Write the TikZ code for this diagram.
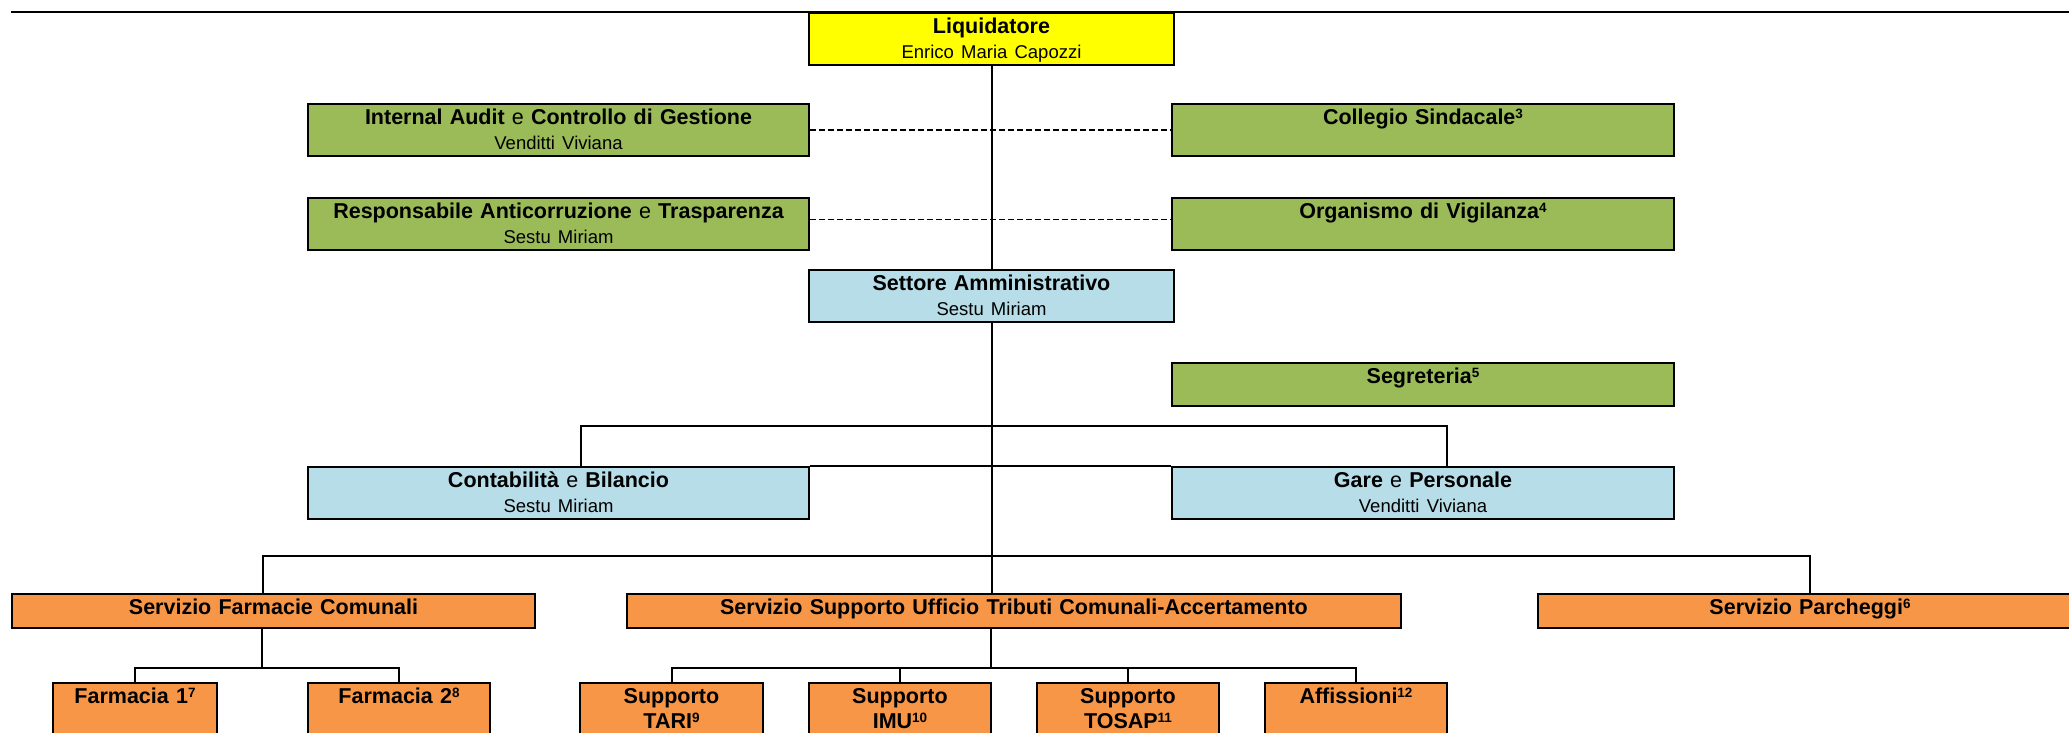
\documentclass[tikz,border=0pt]{standalone}
\usepackage{fontspec}
\setmainfont{Liberation Sans}
\usepackage{tikz}
\usetikzlibrary{positioning}
\usetikzlibrary{calc}
\definecolor{LiqYellow}{RGB}{255,255,0}
\definecolor{StaffGreen}{RGB}{155,187,89}
\definecolor{AdminBlue}{RGB}{183,221,232}
\definecolor{ServOrange}{RGB}{247,150,70}
\newcommand{\who}[1]{{\fontsize{18.5}{25}\selectfont\mdseries #1}}
\newcommand{\fnref}[1]{\raisebox{5.5pt}{\fontsize{13.5}{14}\selectfont #1}}

\begin{document}
\begin{tikzpicture}[x=1pt, y=-1pt,
  unit/.style={draw, line width=2pt, inner sep=0pt, anchor=north west, align=center,
    font=\fontsize{21.5}{25}\selectfont\bfseries, text height=20pt},
  tall/.style={text depth=32pt},
  short/.style={text depth=14pt},
  wire/.style={line width=2pt},
  staff/.style={line width=1.5pt, dash pattern=on 6pt off 3pt}]
\path[use as bounding box, clip] (0,0) rectangle (2069,732);

\draw[line width=2.5pt] (11,12) -- (2090,12);

% vertici e staff
\node[unit, tall, fill=LiqYellow, text width=365pt] at (808,12) (liq) {Liquidatore\\\who{Enrico Maria Capozzi}};
\node[unit, tall, fill=StaffGreen, text width=501pt] at (307,103) (audit) {Internal Audit \textmd{e} Controllo di Gestione\\\who{Venditti Viviana}};
\node[unit, tall, fill=StaffGreen, text width=502pt] at (1171,103) (collegio) {Collegio Sindacale\fnref{3}\\\mbox{}};
\node[unit, tall, fill=StaffGreen, text width=501pt] at (307,197) (anticorr) {Responsabile Anticorruzione \textmd{e} Trasparenza\\\who{Sestu Miriam}};
\node[unit, tall, fill=StaffGreen, text width=502pt] at (1171,197) (vigilanza) {Organismo di Vigilanza\fnref{4}\\\mbox{}};
\node[unit, tall, fill=AdminBlue, text width=365pt] at (808,269) (settore) {Settore Amministrativo\\\who{Sestu Miriam}};
\node[unit, text depth=23pt, fill=StaffGreen, text width=502pt] at (1171,362) (segreteria) {Segreteria\fnref{5}};

% uffici
\node[unit, tall, fill=AdminBlue, text width=501pt] at (307,466) (contab) {Contabilità \textmd{e} Bilancio\\\who{Sestu Miriam}};
\node[unit, tall, fill=AdminBlue, text width=502pt] at (1171,466) (gare) {Gare \textmd{e} Personale\\\who{Venditti Viviana}};

% servizi
\node[unit, short, fill=ServOrange, text width=523pt] at (11,593) (farmacie) {Servizio Farmacie Comunali};
\node[unit, short, fill=ServOrange, text width=774pt] at (626,593) (tributi) {Servizio Supporto Ufficio Tributi Comunali-Accertamento};
\node[unit, short, fill=ServOrange, text width=544pt] at (1537,593) (parcheggi) {Servizio Parcheggi\fnref{6}};

\node[unit, tall, fill=ServOrange, text width=164pt] at (52,682) (farm1) {Farmacia 1\fnref{7}\\\mbox{}};
\node[unit, tall, fill=ServOrange, text width=182pt] at (307,682) (farm2) {Farmacia 2\fnref{8}\\\mbox{}};
\node[unit, tall, fill=ServOrange, text width=183pt] at (579,682) (tari) {Supporto\\TARI\fnref{9}};
\node[unit, tall, fill=ServOrange, text width=182pt] at (808,682) (imu) {Supporto\\IMU\fnref{10}};
\node[unit, tall, fill=ServOrange, text width=182pt] at (1036,682) (tosap) {Supporto\\TOSAP\fnref{11}};
\node[unit, tall, fill=ServOrange, text width=182pt] at (1264,682) (affissioni) {Affissioni\fnref{12}\\\mbox{}};

\coordinate (split1) at (990.5,426);
\coordinate (split2) at (990.5,556);
\coordinate (split3) at (990.5,668);
\coordinate (split4) at (261.5,668);

\draw[wire] (liq.south) -- (settore.north);
\draw[wire] (settore.south) -- (settore.south |- tributi.north);
\draw[staff] (audit.east) -- (collegio.west);
\draw[staff] ([yshift=4.5pt]anticorr.east) -- ([yshift=4.5pt]vigilanza.west);

\draw[wire] ([xshift=22pt]contab.north) |- (split1) -| ([xshift=24pt]gare.north);
\draw[wire] (contab.north east) -- (gare.north west);
\draw[wire] ([xshift=-11pt]farmacie.north) |- (split2) -| (parcheggi.north);

\draw[wire] (split4 |- farmacie.south) -- (split4);
\draw[wire] (farm1.north) |- (split4) -| (farm2.north);
\draw[wire] (split3 |- tributi.south) -- (split3);
\draw[wire] (tari.north) |- (split3) -| (affissioni.north);
\draw[wire] (imu.north) -- (imu.north |- split3);
\draw[wire] (tosap.north) -- (tosap.north |- split3);

\end{tikzpicture}
\end{document}
